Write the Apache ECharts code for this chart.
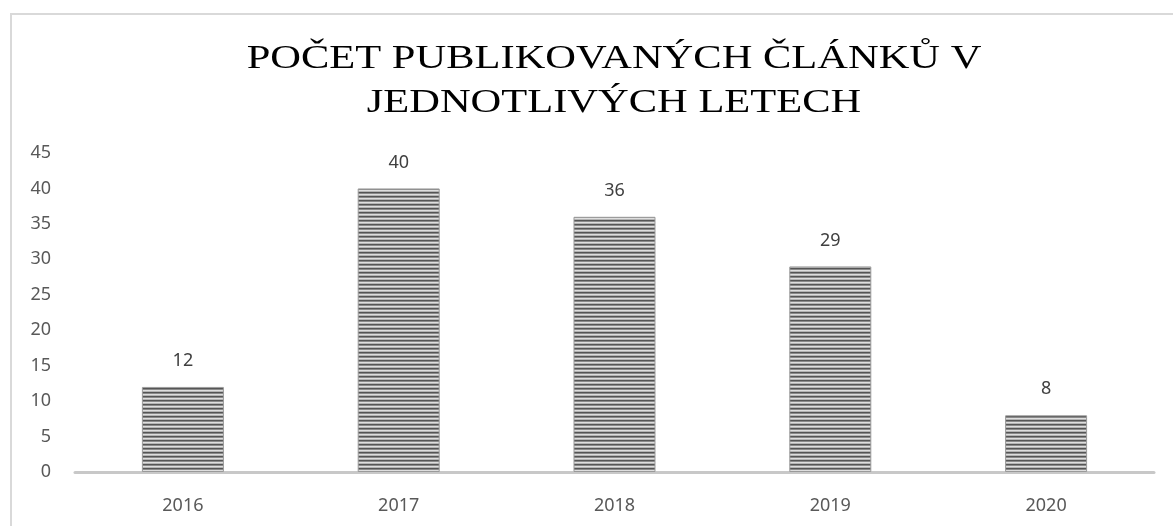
<!DOCTYPE html>
<html>
<head>
<meta charset="utf-8">
<script src="https://cdn.jsdelivr.net/npm/echarts@6/dist/echarts.min.js"></script>
<style>
  html, body { margin: 0; padding: 0; background: #fff; }
  #frame { position: absolute; left: 10px; top: 13px; width: 1170px; height: 520px; border: 2px solid #d9d9d9; box-sizing: border-box; }
  #chart { width: 1173px; height: 526px; position: absolute; left: 0; top: 0; }
</style>
</head>
<body>
<div id="frame"></div>
<div id="chart"></div>
<script>
// data
var years = ['2016', '2017', '2018', '2019', '2020'];
var articles = [12, 40, 36, 29, 8];
var titleText = 'POČET PUBLIKOVANÝCH ČLÁNKŮ V\nJEDNOTLIVÝCH LETECH';

// striped fill like the original
function stripes() {
    var c = document.createElement('canvas');
    c.width = 4; c.height = 4;
    var ctx = c.getContext('2d');
    var rows = ['#555555', '#8a8a8a', '#dedede', '#b4b4b4'];
    for (var i = 0; i < rows.length; i++) {
        ctx.fillStyle = rows[i];
        ctx.fillRect(0, i, 4, 1);
    }
    return c;
}

var myChart = echarts.init(document.getElementById('chart'));
myChart.setOption({
    animation: false,
    // title is wide-spaced in the original, so stretch it a bit
    graphic: [
        {
            type: 'text',
            x: 614,
            y: 37,
            scaleX: 1.25,
            style: {
                text: titleText,
                textAlign: 'center',
                font: '34px "Liberation Serif"',
                lineHeight: 44,
                fill: '#000'
            }
        }
    ],
    grid: { left: 75, right: 19, top: 153, bottom: 54 },
    xAxis: {
        type: 'category',
        data: years,
        axisLine: { lineStyle: { color: '#c8c8c8', width: 3 } },
        axisTick: { show: false },
        axisLabel: { color: '#595959', fontSize: 18, margin: 25, fontFamily: 'Noto Sans' }
    },
    yAxis: {
        type: 'value',
        min: 0,
        max: 45,
        interval: 5,
        splitLine: { show: false },
        axisLine: { show: false },
        axisTick: { show: false },
        axisLabel: { color: '#595959', fontSize: 18, margin: 24, fontFamily: 'Noto Sans' }
    },
    series: [
        {
            type: 'bar',
            data: articles,
            barWidth: '38%',
            itemStyle: {
                color: { image: stripes(), repeat: 'repeat' },
                borderColor: '#9a9a9a',
                borderWidth: 1
            },
            label: {
                show: true,
                position: 'top',
                distance: 17,
                color: '#404040',
                fontSize: 18,
                fontFamily: 'Noto Sans'
            }
        }
    ]
});
</script>
</body>
</html>
